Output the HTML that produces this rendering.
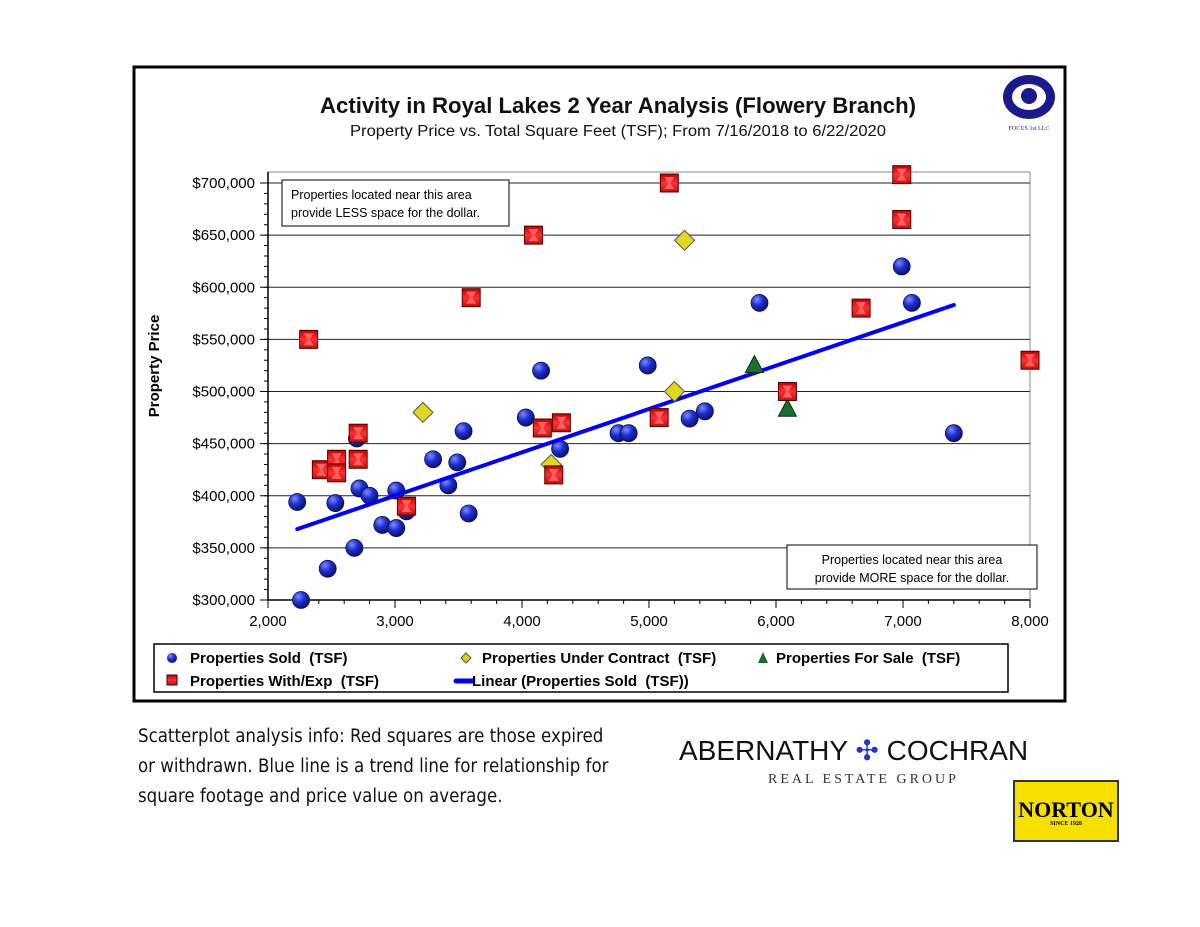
<!DOCTYPE html>
<html><head><meta charset="utf-8"><style>
body{margin:0;width:1200px;height:927px;background:#fff;position:relative;overflow:hidden;font-family:"Liberation Sans",sans-serif}
svg text{white-space:pre}
</style></head><body>
<svg id="chart" width="1200" height="927" style="position:absolute;left:0;top:0">
<defs>
<radialGradient id="gb" cx="35%" cy="30%" r="70%"><stop offset="0" stop-color="#7f8cff"/><stop offset="0.5" stop-color="#1f2fd0"/><stop offset="1" stop-color="#0a1470"/></radialGradient>
<linearGradient id="gr" x1="0" y1="0" x2="0" y2="1"><stop offset="0" stop-color="#c00000"/><stop offset="0.5" stop-color="#ff3030"/><stop offset="1" stop-color="#c01010"/></linearGradient>
</defs>
<rect x="134" y="67" width="931" height="634" fill="#fff" stroke="#000" stroke-width="3"/>
<text x="618" y="113" text-anchor="middle" font-size="22" font-weight="bold" fill="#111" textLength="596" lengthAdjust="spacingAndGlyphs">Activity in Royal Lakes 2 Year Analysis (Flowery Branch)</text>
<text x="618" y="136" text-anchor="middle" font-size="15.5" fill="#111" textLength="536" lengthAdjust="spacingAndGlyphs">Property Price vs. Total Square Feet (TSF); From 7/16/2018 to 6/22/2020</text>
<g>
<ellipse cx="1029" cy="97" rx="26" ry="22" fill="#1a1a8c"/>
<ellipse cx="1029" cy="97" rx="17" ry="13" fill="#fff"/>
<circle cx="1029" cy="96" r="8" fill="#1a1a8c"/>
<text x="1029" y="130" text-anchor="middle" font-size="6" font-family="Liberation Serif" fill="#1a1a8c">FOCUS 1st LLC</text>
</g>
<text transform="translate(159,366) rotate(-90)" text-anchor="middle" font-size="15" font-weight="bold">Property Price</text>
<g id="grid"></g>
<g id="axes"></g>
<rect x="282" y="180" width="227" height="46" fill="#fff" stroke="#000"/>
<text x="291" y="199" font-size="12.5">Properties located near this area</text>
<text x="291" y="217" font-size="12.5">provide LESS space for the dollar.</text>
<rect x="787" y="545" width="250" height="44" fill="#fff" stroke="#000"/>
<text x="912" y="564" text-anchor="middle" font-size="12.5">Properties located near this area</text>
<text x="912" y="582" text-anchor="middle" font-size="12.5">provide MORE space for the dollar.</text>
<g id="marks"></g>
<g>
<rect x="154" y="644" width="854" height="48" fill="#fff" stroke="#000" stroke-width="1.5"/>
<circle cx="172" cy="658" r="5" fill="url(#gb)"/>
<text x="190" y="663" font-size="15" font-weight="bold">Properties Sold  (TSF)</text>
<path d="M466,653 L471,658 L466,663 L461,658Z" fill="#d8d020" stroke="#555"/>
<text x="482" y="663" font-size="15" font-weight="bold">Properties Under Contract  (TSF)</text>
<path d="M763,652 L768,663 L758,663Z" fill="#1a6a2a"/>
<text x="776" y="663" font-size="15" font-weight="bold">Properties For Sale  (TSF)</text>
<rect x="167" y="675" width="10" height="10" fill="url(#gr)" stroke="#400"/>
<text x="190" y="686" font-size="15" font-weight="bold">Properties With/Exp  (TSF)</text>
<line x1="456" y1="681" x2="472" y2="681" stroke="#0000ff" stroke-width="5" stroke-linecap="round"/>
<text x="472" y="686" font-size="15" font-weight="bold">Linear (Properties Sold  (TSF))</text>
</g>
</svg>
<div style="position:absolute;left:138px;top:722px;font-size:18.5px;line-height:30px;color:#111;font-family:'DejaVu Sans Condensed','Liberation Sans Narrow','Liberation Sans',sans-serif">Scatterplot analysis info:  Red squares are those expired<br>or withdrawn.  Blue line is a trend line for relationship for<br>square footage and price value on average.</div>
<div style="position:absolute;left:679px;top:734px;font-size:28px;color:#111;white-space:nowrap">ABERNATHY <span style="color:#2233cc">✣</span> COCHRAN</div>
<div style="position:absolute;left:768px;top:772px;font-size:14px;letter-spacing:3px;font-family:'Liberation Serif',serif;color:#333">REAL ESTATE GROUP</div>
<div style="position:absolute;left:1013px;top:780px;width:106px;height:62px;background:#f5e000;border:2px solid #333;box-sizing:border-box;text-align:center;font-family:'Liberation Serif',serif;font-weight:bold;font-size:22px;padding-top:18px;line-height:20px">NORTON<div style="font-size:6px;line-height:8px">SINCE 1928</div></div>
<script>
const xTicks=[2000,3000,4000,5000,6000,7000,8000];
const yTicks=[300000,350000,400000,450000,500000,550000,600000,650000,700000];
const soldX=[2230,2260,2470,2530,2680,2700,2720,2800,2900,3010,3010,3090,3300,3420,3490,3540,3580,4030,4150,4300,4990,4760,4840,5320,5440,5870,6990,7070,7400];
const soldY=[394000,300000,330000,393000,350000,455000,407000,400000,372000,405000,369000,385000,435000,410000,432000,462000,383000,475000,520000,445000,525000,460000,460000,474000,481000,585000,620000,585000,460000];
const contractX=[3220,5280,5200,4230];
const contractY=[480000,645000,500000,430000];
const saleX=[5830,6090];
const saleY=[525000,483000];
const expX=[2320,2420,2540,2540,2710,2710,3090,3600,4090,4160,4310,4250,5160,5080,6090,6670,6990,6990,8000];
const expY=[550000,425000,435000,422000,460000,435000,390000,590000,650000,465000,470000,420000,700000,475000,500000,580000,708000,665000,530000];
const trendX=[2230,7400];
const trendY=[368000,583000];
const X=v=>268+(v-2000)*762/6000;
const Y=v=>600-(v-300000)*417/400000;
const NS='http://www.w3.org/2000/svg';
function mk(tag,attrs,parent){const e=document.createElementNS(NS,tag);for(const k in attrs)e.setAttribute(k,attrs[k]);parent.appendChild(e);return e;}
const grid=document.getElementById('grid'),axes=document.getElementById('axes'),marks=document.getElementById('marks');
mk('rect',{x:268,y:172,width:762,height:428,fill:'none',stroke:'#888'},grid);
yTicks.forEach(t=>{
 const l=mk('line',{x1:268,x2:1030,y1:Y(t),y2:Y(t),stroke:'#222','stroke-width':1},grid);
 
 
 const tx=mk('text',{x:255,y:Y(t)+5,'text-anchor':'end','font-size':15},axes);
 tx.textContent='$'+t.toLocaleString('en-US');
 
 
 mk('line',{x1:260,x2:268,y1:Y(t),y2:Y(t),stroke:'#000'},axes);
});
for(let v=300000;v<700000;v+=10000){mk('line',{x1:264,x2:268,y1:Y(v),y2:Y(v),stroke:'#000'},axes);}
mk('line',{x1:268,x2:268,y1:172,y2:600,stroke:'#000','stroke-width':1.5},axes);
mk('line',{x1:268,x2:1030,y1:600,y2:600,stroke:'#000','stroke-width':1.5},axes);
xTicks.forEach(t=>{
 mk('line',{x1:X(t),x2:X(t),y1:600,y2:608,stroke:'#000'},axes);
 const tx=mk('text',{x:X(t),y:626,'text-anchor':'middle','font-size':15},axes);
 tx.textContent=t.toLocaleString('en-US');
 
 
});
for(let v=2000;v<8000;v+=200){mk('line',{x1:X(v),x2:X(v),y1:600,y2:604,stroke:'#000'},axes);}
soldX.forEach((x,i)=>{const c=mk('circle',{cx:X(x),cy:Y(soldY[i]),r:8.5,fill:'url(#gb)',stroke:'#0a1060','stroke-width':0.8},marks);
 
 });
const tl=mk('line',{x1:X(trendX[0]),y1:Y(trendY[0]),x2:X(trendX[1]),y2:Y(trendY[1]),stroke:'#0000ff','stroke-width':4,'stroke-linecap':'round'},marks);


contractX.forEach((x,i)=>{const cx=X(x),cy=Y(contractY[i]);const p=mk('path',{d:`M${cx},${cy-10}L${cx+10},${cy}L${cx},${cy+10}L${cx-10},${cy}Z`,fill:'#e0d820',stroke:'#555'},marks);
 
 });
saleX.forEach((x,i)=>{const cx=X(x),cy=Y(saleY[i]);const p=mk('path',{d:`M${cx},${cy-10}L${cx+9},${cy+7}L${cx-9},${cy+7}Z`,fill:'#1a7030',stroke:'#0a3010'},marks);
 
 });
expX.forEach((x,i)=>{const cx=X(x),cy=Y(expY[i]);const r=mk('rect',{x:cx-9,y:cy-9,width:18,height:18,fill:'url(#gr)',stroke:'#500','stroke-width':1},marks);
 
 
 mk('path',{d:`M${cx-5},${cy-6}L${cx+5},${cy-6}L${cx+1},${cy}L${cx+5},${cy+6}L${cx-5},${cy+6}L${cx-1},${cy}Z`,fill:'#ff6060'},marks);});
</script>
</body></html>
